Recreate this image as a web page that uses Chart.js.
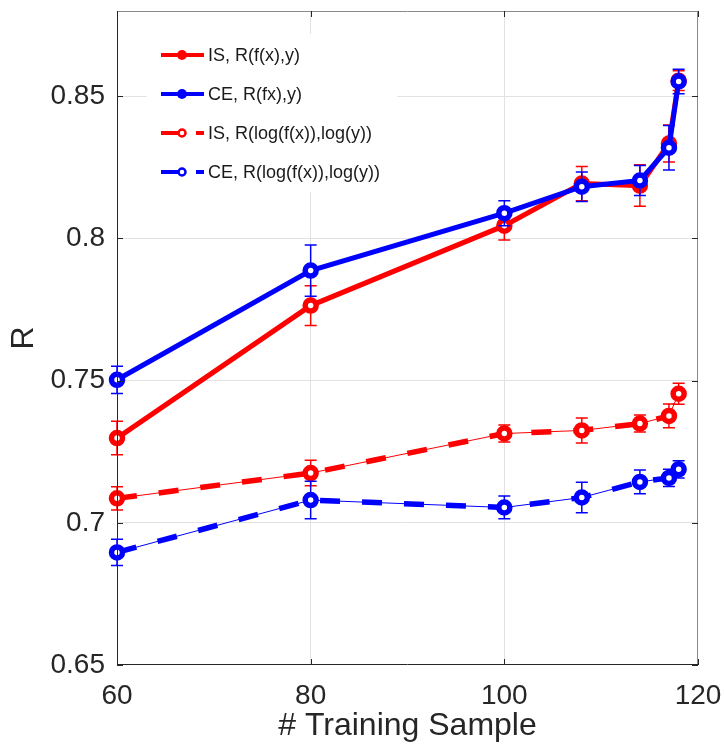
<!DOCTYPE html>
<html>
<head>
<meta charset="utf-8">
<script src="https://cdn.jsdelivr.net/npm/chart.js@4.4.1/dist/chart.umd.min.js"></script>
<style>
  html, body { margin: 0; padding: 0; background: #ffffff; }
  #wrap { width: 724px; height: 756px; }
</style>
</head>
<body>
<div id="wrap"><canvas id="c" width="724" height="756"></canvas></div>
<script>
// Number of training samples (x axis)
const trainingSamples = [60, 80, 100, 108, 114, 117, 118];

// Correlation R and its error (half-width) per series
const isLinear      = [0.7298, 0.7764, 0.8045, 0.8193, 0.8186, 0.8334, 0.8555];
const isLinearErr   = [0.0059, 0.0070, 0.0050, 0.0060, 0.0073, 0.0065, 0.0035];
const ceLinear      = [0.7503, 0.7887, 0.8089, 0.8182, 0.8204, 0.8319, 0.8552];
const ceLinearErr   = [0.0048, 0.0090, 0.0044, 0.0052, 0.0053, 0.0078, 0.0043];
const isLog         = [0.7086, 0.7175, 0.7314, 0.7325, 0.7349, 0.7376, 0.7454];
const isLogErr      = [0.0041, 0.0045, 0.0030, 0.0044, 0.0030, 0.0042, 0.0037];
const ceLog         = [0.6896, 0.7080, 0.7054, 0.7089, 0.7144, 0.7158, 0.7188];
const ceLogErr      = [0.0046, 0.0066, 0.0040, 0.0054, 0.0042, 0.0030, 0.0030];

const seriesLabels = ['IS, R(f(x),y)', 'CE, R(fx),y)', 'IS, R(log(f(x)),log(y))', 'CE, R(log(f(x)),log(y))'];

// Axis ticks
const xTicks = [60, 80, 100, 120];
const xTickLabels = ['60', '80', '100', '120'];
const yTicks = [0.65, 0.7, 0.75, 0.8, 0.85];
const yTickLabels = ['0.65', '0.7', '0.75', '0.8', '0.85'];

const RED = '#ff0000';
const BLUE = '#0000ff';
const AXIS = '#262626';
const FONT = '"Liberation Sans", Arial, Helvetica, sans-serif';

const toPoints = vals => trainingSamples.map((x, i) => ({ x: x, y: vals[i] }));

const markerProps = {
  pointStyle: 'circle',
  pointRadius: 5.5,
  pointBorderWidth: 5.5,
  pointBackgroundColor: '#ffffff',
  pointHoverRadius: 5.5
};

const datasets = [
  Object.assign({ label: seriesLabels[0], data: toPoints(isLinear), errors: isLinearErr,
    borderColor: RED, pointBorderColor: RED, borderWidth: 5, order: 6 }, markerProps),
  Object.assign({ label: seriesLabels[1], data: toPoints(ceLinear), errors: ceLinearErr,
    borderColor: BLUE, pointBorderColor: BLUE, borderWidth: 5, order: 5 }, markerProps),
  // dashed series: heavy dashes over a thin continuous line
  { label: seriesLabels[2] + ' dash', data: toPoints(isLog), borderColor: RED, borderWidth: 5.5,
    borderDash: [20, 22], pointRadius: 0, order: 4 },
  Object.assign({ label: seriesLabels[2], data: toPoints(isLog), errors: isLogErr,
    borderColor: RED, pointBorderColor: RED, borderWidth: 1, order: 3 }, markerProps),
  { label: seriesLabels[3] + ' dash', data: toPoints(ceLog), borderColor: BLUE, borderWidth: 5.5,
    borderDash: [20, 22], pointRadius: 0, order: 2 },
  Object.assign({ label: seriesLabels[3], data: toPoints(ceLog), errors: ceLogErr,
    borderColor: BLUE, pointBorderColor: BLUE, borderWidth: 1, order: 1 }, markerProps)
];
datasets.forEach(d => { d.clip = false; d.tension = 0; d.fill = false; });

// Vertical error bars with caps, drawn just beneath each series' line and markers
const errorBars = {
  id: 'errorBars',
  beforeDatasetDraw(chart, args) {
    const ds = chart.data.datasets[args.index];
    if (!ds.errors) return;
    const { ctx, scales: { x, y } } = chart;
    ctx.save();
    ctx.strokeStyle = ds.borderColor;
    ctx.lineWidth = 1.5;
    ds.data.forEach((p, i) => {
      const e = ds.errors[i];
      const px = x.getPixelForValue(p.x);
      const y1 = y.getPixelForValue(p.y + e);
      const y2 = y.getPixelForValue(p.y - e);
      ctx.beginPath();
      ctx.moveTo(px, y1); ctx.lineTo(px, y2);
      ctx.moveTo(px - 6, y1); ctx.lineTo(px + 6, y1);
      ctx.moveTo(px - 6, y2); ctx.lineTo(px + 6, y2);
      ctx.stroke();
    });
    ctx.restore();
  }
};

// Box outline with inward tick marks
const axesBox = {
  id: 'axesBox',
  afterDatasetsDraw(chart) {
    const { ctx, chartArea: a, scales: { x, y } } = chart;
    ctx.save();
    ctx.lineWidth = 1;
    ctx.strokeStyle = '#8a8a8a';
    ctx.beginPath();
    ctx.moveTo(a.left, a.top + 0.5); ctx.lineTo(a.right, a.top + 0.5);
    ctx.moveTo(a.right - 0.5, a.top); ctx.lineTo(a.right - 0.5, a.bottom);
    ctx.stroke();
    ctx.strokeStyle = AXIS;
    ctx.beginPath();
    ctx.moveTo(a.left + 0.5, a.top); ctx.lineTo(a.left + 0.5, a.bottom);
    ctx.moveTo(a.left, a.bottom - 0.5); ctx.lineTo(a.right, a.bottom - 0.5);
    const t = 6;
    yTicks.forEach(v => {
      const py = Math.round(y.getPixelForValue(v)) + 0.5;
      ctx.moveTo(a.left, py); ctx.lineTo(a.left + t, py);
      ctx.moveTo(a.right, py); ctx.lineTo(a.right - t, py);
    });
    xTicks.forEach(v => {
      const px = Math.round(x.getPixelForValue(v)) + 0.5;
      ctx.moveTo(px, a.bottom); ctx.lineTo(px, a.bottom - t);
      ctx.moveTo(px, a.top); ctx.lineTo(px, a.top + t);
    });
    ctx.stroke();
    ctx.restore();
  }
};

// Legend panel: line sample with marker, then label
const legendPanel = {
  id: 'legendPanel',
  afterDraw(chart) {
    const ctx = chart.ctx;
    const rows = [
      { label: seriesLabels[0], color: RED, dashed: false, y: 55 },
      { label: seriesLabels[1], color: BLUE, dashed: false, y: 94 },
      { label: seriesLabels[2], color: RED, dashed: true, y: 133 },
      { label: seriesLabels[3], color: BLUE, dashed: true, y: 172 }
    ];
    ctx.save();
    ctx.fillStyle = '#ffffff';
    ctx.fillRect(147, 34, 250, 158);
    rows.forEach(r => {
      const x0 = 161, x1 = 204, xm = 182;
      ctx.strokeStyle = r.color;
      ctx.fillStyle = r.color;
      ctx.lineWidth = 4;
      ctx.beginPath();
      if (r.dashed) {
        ctx.moveTo(x0, r.y); ctx.lineTo(xm - 4, r.y);
        ctx.moveTo(196, r.y); ctx.lineTo(x1, r.y);
      } else {
        ctx.moveTo(x0, r.y); ctx.lineTo(x1, r.y);
      }
      ctx.stroke();
      ctx.beginPath();
      if (r.dashed) {
        ctx.lineWidth = 2.5;
        ctx.arc(xm, r.y, 3.5, 0, Math.PI * 2);
        ctx.fillStyle = '#ffffff';
        ctx.fill();
        ctx.stroke();
      } else {
        ctx.arc(xm, r.y, 5, 0, Math.PI * 2);
        ctx.fill();
      }
      ctx.fillStyle = '#1a1a1a';
      ctx.font = '18px ' + FONT;
      ctx.textAlign = 'left';
      ctx.textBaseline = 'middle';
      ctx.fillText(r.label, 208, r.y + 1);
    });
    ctx.restore();
  }
};

const gridColor = (edges) => (c) => (c.tick && edges.includes(c.tick.value)) ? 'rgba(0,0,0,0)' : '#e2e2e2';

new Chart(document.getElementById('c'), {
  type: 'line',
  data: { datasets: datasets },
  plugins: [errorBars, axesBox, legendPanel],
  options: {
    responsive: false,
    animation: false,
    devicePixelRatio: 1,
    layout: { padding: { top: 10, right: 26, left: 0, bottom: 0 } },
    plugins: { legend: { display: false }, tooltip: { enabled: false } },
    scales: {
      x: {
        type: 'linear', min: 60, max: 120,
        afterBuildTicks: s => { s.ticks = xTicks.map(v => ({ value: v })); },
        afterFit: s => { s.height = 91; s.paddingLeft = 0; s.paddingRight = 0; },
        ticks: {
          padding: 14, color: AXIS, font: { family: FONT, size: 28 },
          callback: v => xTickLabels[xTicks.indexOf(v)]
        },
        grid: { color: gridColor([60, 120]), drawTicks: false, lineWidth: 1 },
        border: { display: false },
        title: { display: true, text: '# Training Sample', color: AXIS,
          font: { family: FONT, size: 32 }, padding: { top: 0, bottom: 11 } }
      },
      y: {
        type: 'linear', min: 0.65, max: 0.88,
        afterBuildTicks: s => { s.ticks = yTicks.map(v => ({ value: v })); },
        afterFit: s => { s.width = 117; s.paddingTop = 0; s.paddingBottom = 0; },
        ticks: {
          padding: 12, color: AXIS, font: { family: FONT, size: 28 },
          callback: v => yTickLabels[yTicks.indexOf(v)]
        },
        grid: { color: gridColor([0.65]), drawTicks: false, lineWidth: 1 },
        border: { display: false },
        title: { display: true, text: 'R', color: AXIS,
          font: { family: FONT, size: 32 }, padding: { top: 5, bottom: 0 } }
      }
    }
  }
});
</script>
</body>
</html>
